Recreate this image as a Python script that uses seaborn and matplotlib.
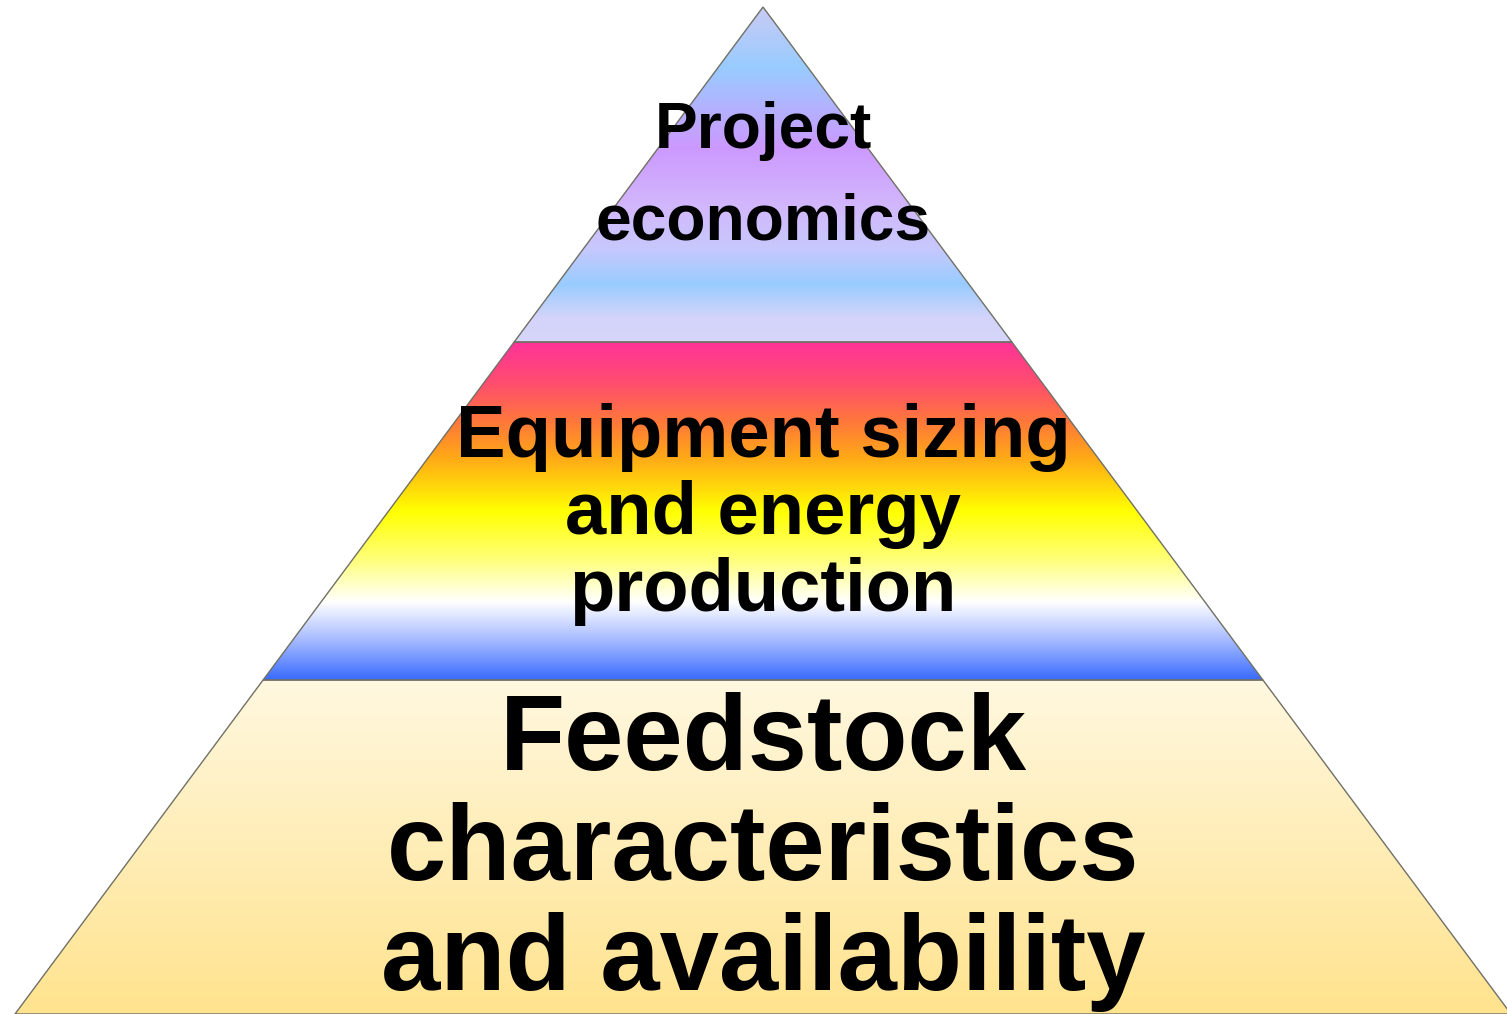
"""
Pyramid diagram: feedstock -> equipment/energy -> project economics
"""

import numpy as np
import matplotlib
matplotlib.use("Agg")
import matplotlib.pyplot as plt
from matplotlib.colors import LinearSegmentedColormap
from matplotlib.patches import Polygon
import seaborn as sns

# tiers, top to bottom
tier_names = ["Project economics",
              "Equipment sizing and energy production",
              "Feedstock characteristics and availability"]
tier_lines = [["Project", "economics"],
              ["Equipment sizing", "and energy", "production"],
              ["Feedstock", "characteristics", "and availability"]]
# tier boundaries on the pyramid height (0 = apex, 1 = base)
tier_edges = [0.0, 0.3327, 0.6683, 1.0]

# gradient stops per tier (position within tier, colour)
tier_gradients = [
    [(0.00, "#cacaf4"), (0.18, "#99ccff"), (0.42, "#cc99ff"), (0.60, "#d2b8fc"),
     (0.72, "#c8c8fd"), (0.83, "#99ccff"), (0.93, "#d4d4fa"), (1.00, "#d6d6fb")],
    [(0.00, "#ff3399"), (0.12, "#ff4d6e"), (0.24, "#ff7a38"), (0.34, "#ffa818"),
     (0.50, "#ffff00"), (0.65, "#ffff80"), (0.77, "#ffffff"), (0.88, "#a9bcff"),
     (1.00, "#3a6cff")],
    [(0.00, "#fff8e0"), (1.00, "#ffe38e")],
]

# figure layout (pixels)
W, H = 1507, 1014
apex_x, apex_y = 763, 7
base_y = 1014
half_base = 748
font_sizes = [46.2, 53.5, 76.8]
line_steps = [92, 77, 110]
first_baselines = [148, 457, 770]

sns.set_theme(style="white")
plt.rcParams['font.family'] = ['Liberation Sans', 'DejaVu Sans']

fig = plt.figure(figsize=(W / 100, H / 100), dpi=100)
ax = fig.add_axes([0, 0, 1, 1])
ax.set_xlim(0, W)
ax.set_ylim(H, 0)
ax.axis("off")


def edge_x(y):
    """Left and right x of the pyramid at height y"""
    half = half_base * (y - apex_y) / (base_y - apex_y)
    return apex_x - half, apex_x + half


height = base_y - apex_y
for i, lines in enumerate(tier_lines):
    y0 = apex_y + tier_edges[i] * height
    y1 = apex_y + tier_edges[i + 1] * height
    l0, r0 = edge_x(y0)
    l1, r1 = edge_x(y1)
    poly = Polygon([(l0, y0), (r0, y0), (r1, y1), (l1, y1)], closed=True,
                   facecolor="none", edgecolor="#707066", linewidth=1.0, zorder=3)
    ax.add_patch(poly)

    cmap = LinearSegmentedColormap.from_list(f"tier{i}", tier_gradients[i])
    grad = np.linspace(0, 1, 512)[:, None]
    im = ax.imshow(grad, cmap=cmap, aspect="auto", origin="upper",
                   extent=(0, W, y1, y0), zorder=1, interpolation="bilinear")
    im.set_clip_path(poly)

    for j, txt in enumerate(lines):
        ax.text(apex_x, first_baselines[i] + j * line_steps[i], txt,
                ha="center", va="baseline", fontsize=font_sizes[i],
                fontweight="bold", color="black", zorder=4)

fig.savefig("out.png", dpi=100)
